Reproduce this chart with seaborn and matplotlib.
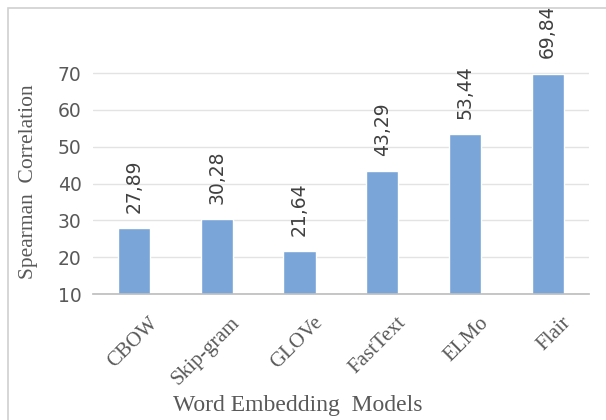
import matplotlib
matplotlib.use("Agg")
import matplotlib.pyplot as plt
import matplotlib.transforms as mtransforms
import seaborn as sns
import pandas as pd
from matplotlib.patches import Rectangle

# 数据
models = ['CBOW', 'Skip-gram', 'GLOVe', 'FastText', 'ELMo', 'Flair']
scores = [27.89, 30.28, 21.64, 43.29, 53.44, 69.84]
yticks = [10, 20, 30, 40, 50, 60, 70]

df = pd.DataFrame({'model': models, 'score': scores})

sns.set_theme(style="white")
plt.rcParams['font.family'] = ['DejaVu Sans']

fig = plt.figure(figsize=(6.06, 4.2), dpi=100)
ax = fig.add_axes([0.153, 0.30, 0.819, 0.57])

sns.barplot(data=df, x='model', y='score', color='#79a5d8', width=0.39,
            saturation=1, ax=ax)

ax.set_ylim(10, 75)
ax.set_yticks(yticks)
ax.yaxis.grid(True, color='#e3e3e3', linewidth=1)
ax.set_axisbelow(True)
for s in ['top', 'right', 'left']:
    ax.spines[s].set_visible(False)
ax.spines['bottom'].set_color('#bfbfbf')
ax.tick_params(axis='y', labelsize=13.5, labelcolor='#595959', length=0, pad=8)
ax.tick_params(axis='x', length=0, pad=14)

ax.set_xticks(range(len(models)))
ax.set_xticklabels(models, rotation=45, ha='right', rotation_mode='anchor',
                   family='Liberation Serif', fontsize=15, color='#595959')
# 标签向右偏移一点
shift = mtransforms.ScaledTranslation(14 / 100, 0, fig.dpi_scale_trans)
for lbl in ax.get_xticklabels():
    lbl.set_transform(lbl.get_transform() + shift)

ax.set_ylabel('Spearman  Correlation', family='Liberation Serif', fontsize=15.5,
              color='#595959')
ax.yaxis.set_label_coords(-0.110, 0.47)
ax.set_xlabel('Word Embedding  Models', family='Liberation Serif', fontsize=17,
              color='#595959', va='center')
ax.xaxis.set_label_coords(0.413, -0.465)

# 数值标签
for i, v in enumerate(scores):
    ax.annotate(f'{v:.2f}'.replace('.', ','), (i, v), xytext=(0, 11),
                textcoords='offset points', rotation=90,
                ha='center', va='bottom', fontsize=13.5, color='#404040')

# 外框
fig.patches.append(Rectangle((0.013, -0.01), 0.99, 0.991, transform=fig.transFigure,
                             fill=False, edgecolor='#d0d0d0', linewidth=1.2))

fig.savefig('out.png', dpi=100)
